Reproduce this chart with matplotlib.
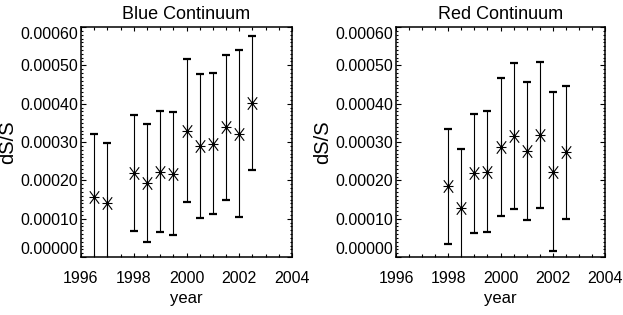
import matplotlib
matplotlib.use("Agg")
import matplotlib.pyplot as plt
import numpy as np
from matplotlib.path import Path
from matplotlib.ticker import MultipleLocator, FixedLocator

plt.rcParams['font.family'] = ['Liberation Sans', 'DejaVu Sans']

# ---- data (dS/S) ----
blue_year = [1996.5, 1997.0, 1998.0, 1998.5, 1999.0, 1999.5,
             2000.0, 2000.5, 2001.0, 2001.5, 2002.0, 2002.5]
blue_val = [1.56e-4, 1.41e-4, 2.19e-4, 1.92e-4, 2.23e-4, 2.17e-4,
            3.30e-4, 2.89e-4, 2.96e-4, 3.38e-4, 3.22e-4, 4.02e-4]
blue_err = [1.66e-4, 1.57e-4, 1.51e-4, 1.54e-4, 1.58e-4, 1.60e-4,
            1.86e-4, 1.88e-4, 1.83e-4, 1.90e-4, 2.17e-4, 1.75e-4]

red_year = [1998.0, 1998.5, 1999.0, 1999.5, 2000.0,
            2000.5, 2001.0, 2001.5, 2002.0, 2002.5]
red_val = [1.84e-4, 1.28e-4, 2.18e-4, 2.23e-4, 2.87e-4,
           3.15e-4, 2.76e-4, 3.19e-4, 2.23e-4, 2.73e-4]
red_err = [1.51e-4, 1.55e-4, 1.55e-4, 1.59e-4, 1.79e-4,
           1.91e-4, 1.80e-4, 1.90e-4, 2.07e-4, 1.73e-4]

titles = ["Blue Continuum", "Red Continuum"]
y_ticks = [0.0, 0.0001, 0.0002, 0.0003, 0.0004, 0.0005, 0.0006]

# IDL psym=2 style asterisk
ASTER = Path([(-0.75, -1), (0.75, 1), (-0.75, 1), (0.75, -1),
              (-0.8, 0), (0.8, 0), (0, -1), (0, 1)],
             [Path.MOVETO, Path.LINETO] * 4)

fig = plt.figure(figsize=(6.23, 3.15), dpi=100)
positions = [[81 / 623, 58 / 315, 211 / 623, 230 / 315],
             [396 / 623, 58 / 315, 209 / 623, 230 / 315]]

for pos, title, xs, ys, es in zip(positions, titles,
                                  [blue_year, red_year],
                                  [blue_val, red_val],
                                  [blue_err, red_err]):
    ax = fig.add_axes(pos)
    ax.errorbar(xs, ys, yerr=es, fmt='none', ecolor='black',
                elinewidth=0.8, capsize=2.6, capthick=1.6)
    ax.plot(xs, ys, linestyle='none', marker=ASTER, markersize=9,
            markeredgecolor='black', markeredgewidth=0.8, color='black')

    ax.set_xlim(1996, 2004)
    ax.set_ylim(0, 0.0006)
    ax.xaxis.set_major_locator(MultipleLocator(2))
    ax.xaxis.set_minor_locator(MultipleLocator(0.5))
    ax.yaxis.set_major_locator(FixedLocator(y_ticks))
    ax.yaxis.set_minor_locator(MultipleLocator(0.00001))
    ax.set_yticklabels([f"{v:.5f}" for v in y_ticks])
    ax.tick_params(which='both', direction='in', top=True, right=True,
                   labelsize=11.5, width=0.8, color='black')
    ax.tick_params(axis='x', which='major', length=3.2, pad=10)
    ax.tick_params(axis='x', which='minor', length=2.4)
    ax.tick_params(axis='y', which='major', length=3.5, pad=2)
    ax.tick_params(axis='y', which='minor', length=1.6)
    labels = ax.get_yticklabels()
    labels[0].set_va('bottom')
    labels[-1].set_va('top')
    for s in ax.spines.values():
        s.set_linewidth(1.1)

    ax.set_title(title, fontsize=13, pad=6)
    ax.set_xlabel("year", fontsize=12, labelpad=4)
    ax.set_ylabel("dS/S", fontsize=14.5, labelpad=2)

fig.savefig("out.png", dpi=100)
